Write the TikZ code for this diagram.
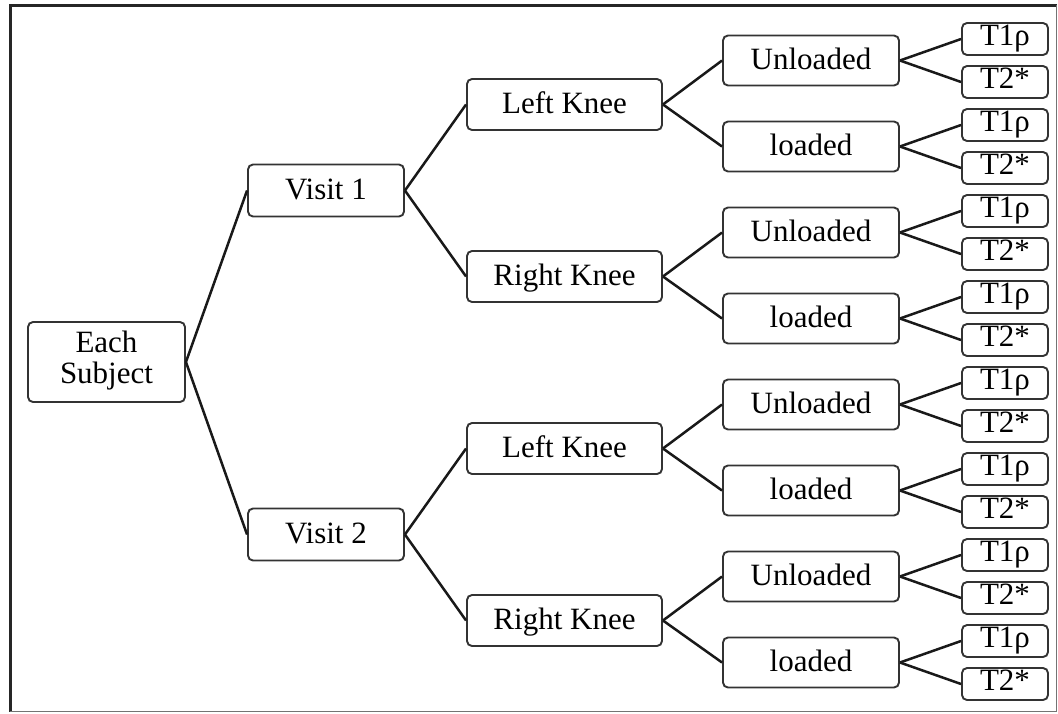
\documentclass[tikz,border=0pt]{standalone}
\usepackage{fontspec}
\setmainfont{Liberation Serif}
\begin{document}
\begin{tikzpicture}[x=1pt,y=-1pt,
  nbox/.style={draw=black!80, line width=1.9pt, rounded corners=5pt, fill=white,
    inner sep=0pt, font=\fontsize{31}{31}\selectfont, align=center},
  onel/.style={nbox, text height=21pt, text depth=3.6pt},
  visitbox/.style={onel, minimum width=156pt, minimum height=52pt},
  kneebox/.style={onel, minimum width=195pt, minimum height=51pt},
  loadbox/.style={onel, minimum width=176pt, minimum height=50pt},
  leafbox/.style={nbox, text height=20.5pt, text depth=7.5pt,
    minimum width=86pt, minimum height=32pt},
  link/.style={draw=black!90, line width=2.5pt}
]
% canvas and frame
\fill[white] (0,0) rectangle (1058,713);
\useasboundingbox (0,0) rectangle (1058,713);
\draw[line width=3pt, black!85] (1056.5,5) -- (10,5) -- (10,712);
\draw[line width=1.4pt, black!55] (10,711.7) -- (1056.5,711.7) -- (1056.5,5);

% root
\node[nbox, minimum width=157pt, minimum height=80pt] (es) at (106.5,362)
  {\strut Each\\Subject\strut};

% visits
\foreach \v/\y in {1/190.5, 2/534.5}
  \node[visitbox] (v\v) at (326,\y) {Visit \v};

% knees
\foreach \n/\y/\t in {1/104.5/Left Knee, 2/276.5/Right Knee, 3/448.5/Left Knee, 4/620.5/Right Knee}
  \node[kneebox] (k\n) at (564.5,\y) {\t};

% loading conditions and sequences
\foreach \n in {1,...,8} {
  \pgfmathsetmacro{\yy}{60.5+86*(\n-1)}
  \ifodd\n
    \node[loadbox] (u\n) at (811,\yy) {Unloaded};
  \else
    \node[loadbox] (u\n) at (811,\yy) {loaded};
  \fi
  \node[leafbox] (t\n a) at (1005,\yy-21.5) {T1ρ};
  \node[leafbox] (t\n b) at (1005,\yy+21.5) {T2*};
  \draw[link] (u\n.east) -- (t\n a.west);
  \draw[link] (u\n.east) -- (t\n b.west);
}

% branches
\draw[link] (es.east) -- (v1.west);
\draw[link] (es.east) -- (v2.west);
\draw[link] (v1.east) -- (k1.west);
\draw[link] (v1.east) -- (k2.west);
\draw[link] (v2.east) -- (k3.west);
\draw[link] (v2.east) -- (k4.west);
\foreach \n [evaluate=\n as \a using int(2*\n-1), evaluate=\n as \b using int(2*\n)] in {1,...,4} {
  \draw[link] (k\n.east) -- (u\a.west);
  \draw[link] (k\n.east) -- (u\b.west);
}
\end{tikzpicture}
\end{document}
